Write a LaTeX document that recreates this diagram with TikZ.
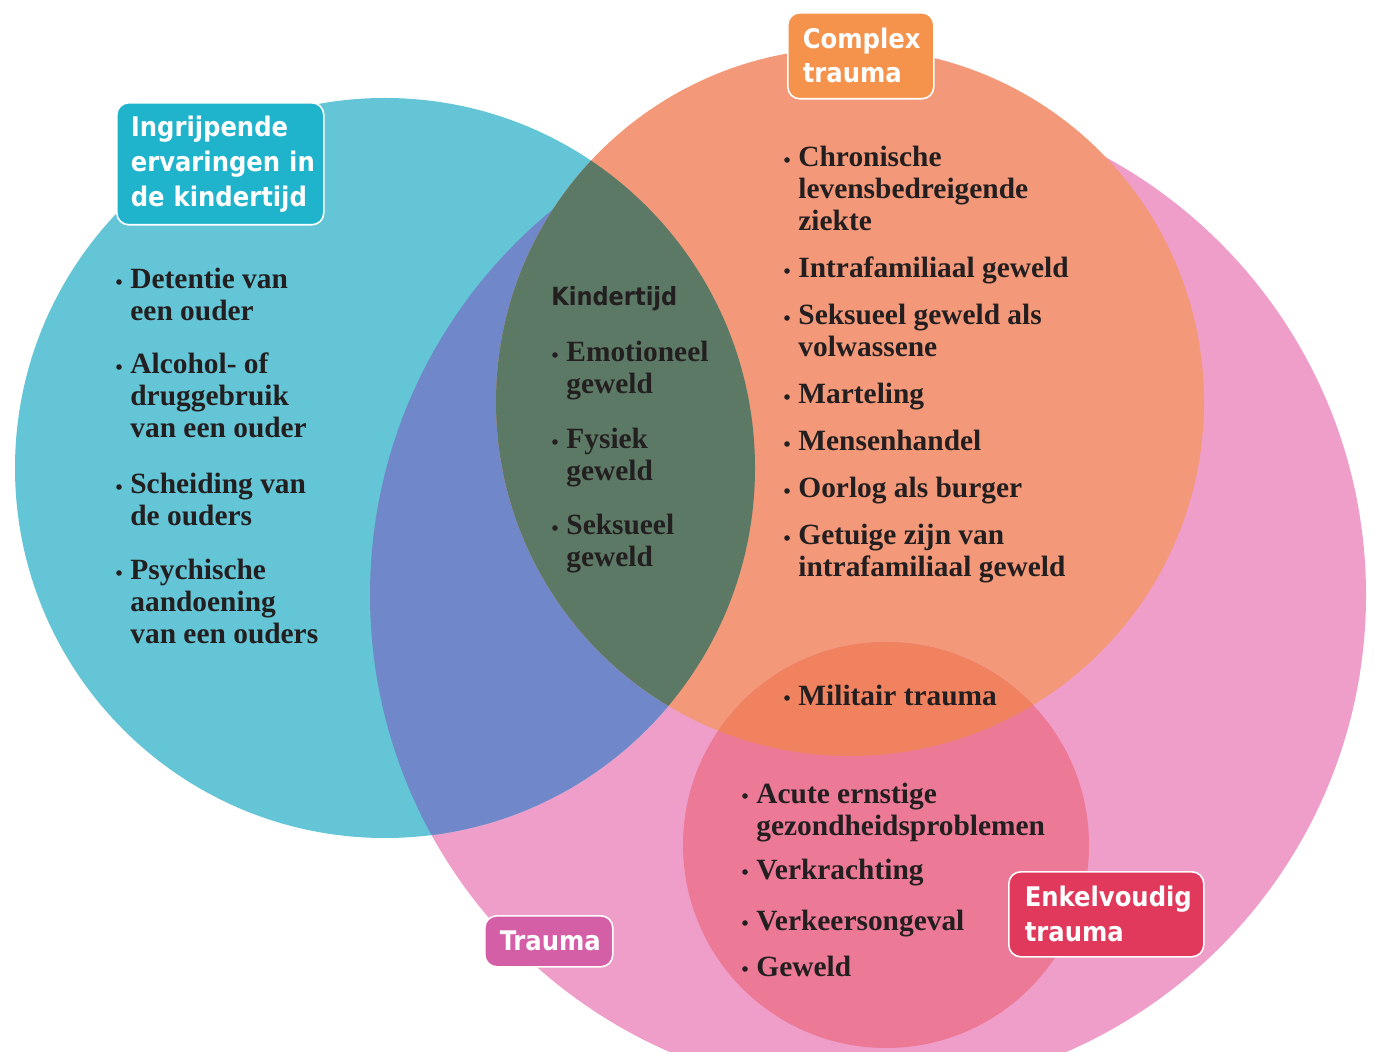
\documentclass[tikz,border=0pt]{standalone}
\usepackage{fontspec}
\newfontfamily\itemfont{Liberation Serif}
\newfontfamily\labelfont{DejaVu Sans Condensed}

% watercolour fills
\definecolor{pinkbig}{HTML}{EF9ECA}
\definecolor{tealwash}{HTML}{63C5D5}
\definecolor{violetwash}{HTML}{7088CA}
\definecolor{salmonwash}{HTML}{F39878}
\definecolor{mosswash}{HTML}{5C7966}
\definecolor{rosewash}{HTML}{EC7996}
\definecolor{coralwash}{HTML}{F08260}
% label boxes
\definecolor{tealtag}{HTML}{1FB3CC}
\definecolor{orangetag}{HTML}{F5924B}
\definecolor{magentatag}{HTML}{D45FA6}
\definecolor{crimsontag}{HTML}{E0395B}
\definecolor{ink}{HTML}{231F20}

% one line of a list, placed on its baseline
\newcommand\itemline[4]{\node[itemtext] (#1) at (#2,#3) {#4};}
% the bullet in front of a list line
\newcommand\itemdot[1]{\fill[ink] ([xshift=-5.5pt,yshift=3.5pt]#1.base west) circle (1.4pt);}

\begin{document}
\begin{tikzpicture}[x=0.5pt,y=-0.5pt,
  itemtext/.style={anchor=base west, inner sep=0pt, text=ink,
    font=\itemfont\bfseries\fontsize{14.7}{16}\selectfont},
  tag/.style={anchor=north west, rounded corners=6pt, draw=white,
    line width=0.8pt, text=white, align=left, inner ysep=0pt,
    font=\labelfont\bfseries\fontsize{13.5}{17.5}\selectfont},
  heading/.style={anchor=base west, inner sep=0pt, text=ink,
    font=\labelfont\bfseries\fontsize{12.5}{15}\selectfont}]

\useasboundingbox (0,0) rectangle (1375,1052);
\clip (0,0) rectangle (1375,1052);
\fill[white] (0,0) rectangle (1375,1052);

% circle centres
\coordinate (cTrauma) at (868,595);
\coordinate (cChild) at (385,468);
\coordinate (cComplex) at (850,402);
\coordinate (cSingle) at (886,845);

% trauma (large pink)
\fill[pinkbig] (cTrauma) circle[radius=249pt];
% childhood experiences (teal)
\fill[tealwash] (cChild) circle[radius=185pt];
\begin{scope}
  \clip (cChild) circle[radius=185pt];
  \fill[violetwash] (cTrauma) circle[radius=249pt];
\end{scope}
% complex trauma (orange)
\fill[salmonwash] (cComplex) circle[radius=177pt];
\begin{scope}
  \clip (cComplex) circle[radius=177pt];
  \fill[mosswash] (cChild) circle[radius=185pt];
\end{scope}
% single trauma (rose)
\fill[rosewash] (cSingle) circle[radius=101.5pt];
\begin{scope}
  \clip (cSingle) circle[radius=101.5pt];
  \fill[coralwash] (cComplex) circle[radius=177pt];
\end{scope}

% label boxes
\node[tag, fill=tealtag, text width=89.5pt, inner xsep=7pt, minimum height=61pt]
  (tagChild) at (116,102)
  {\mbox{Ingrijpende}\\\mbox{ervaringen in}\\\mbox{de kindertijd}};
\node[tag, fill=orangetag, text width=58pt, inner xsep=7.5pt, minimum height=43pt,
  font=\labelfont\bfseries\fontsize{13.5}{17}\selectfont]
  (tagComplex) at (787,12) {\mbox{Complex}\\\mbox{trauma}};
\node[tag, fill=magentatag, text width=49pt, inner xsep=7.5pt, minimum height=25.5pt]
  (tagTrauma) at (484,915) {\mbox{Trauma}};
\node[tag, fill=crimsontag, text width=81.5pt, inner xsep=8pt, minimum height=42.5pt]
  (tagSingle) at (1008,871) {\mbox{Enkelvoudig}\\\mbox{trauma}};

% childhood experiences
\itemline{a1}{130}{289}{Detentie van}\itemdot{a1}
\itemline{a1b}{130}{321}{een ouder}
\itemline{a2}{130}{374}{Alcohol- of}\itemdot{a2}
\itemline{a2b}{130}{406}{druggebruik}
\itemline{a2c}{130}{438}{van een ouder}
\itemline{a3}{130}{494}{Scheiding van}\itemdot{a3}
\itemline{a3b}{130}{526}{de ouders}
\itemline{a4}{130}{580}{Psychische}\itemdot{a4}
\itemline{a4b}{130}{612}{aandoening}
\itemline{a4c}{130}{644}{van een ouders}

% childhood violence
\node[heading] (kind) at (551,306) {Kindertijd};
\itemline{k1}{566}{362}{Emotioneel}\itemdot{k1}
\itemline{k1b}{566}{394}{geweld}
\itemline{k2}{566}{449}{Fysiek}\itemdot{k2}
\itemline{k2b}{566}{481}{geweld}
\itemline{k3}{566}{535}{Seksueel}\itemdot{k3}
\itemline{k3b}{566}{567}{geweld}

% complex trauma
\itemline{c1}{798}{167}{Chronische}\itemdot{c1}
\itemline{c1b}{798}{199}{levensbedreigende}
\itemline{c1c}{798}{231}{ziekte}
\itemline{c2}{798}{278}{Intrafamiliaal geweld}\itemdot{c2}
\itemline{c3}{798}{325}{Seksueel geweld als}\itemdot{c3}
\itemline{c3b}{798}{357}{volwassene}
\itemline{c4}{798}{404}{Marteling}\itemdot{c4}
\itemline{c5}{798}{451}{Mensenhandel}\itemdot{c5}
\itemline{c6}{798}{498}{Oorlog als burger}\itemdot{c6}
\itemline{c7}{798}{545}{Getuige zijn van}\itemdot{c7}
\itemline{c7b}{798}{577}{intrafamiliaal geweld}
\itemline{c8}{798}{705}{Militair trauma}\itemdot{c8}

% single trauma
\itemline{s1}{756}{803}{Acute ernstige}\itemdot{s1}
\itemline{s1b}{756}{835}{gezondheidsproblemen}
\itemline{s2}{756}{879}{Verkrachting}\itemdot{s2}
\itemline{s3}{756}{930}{Verkeersongeval}\itemdot{s3}
\itemline{s4}{756}{976}{Geweld}\itemdot{s4}

\end{tikzpicture}
\end{document}
